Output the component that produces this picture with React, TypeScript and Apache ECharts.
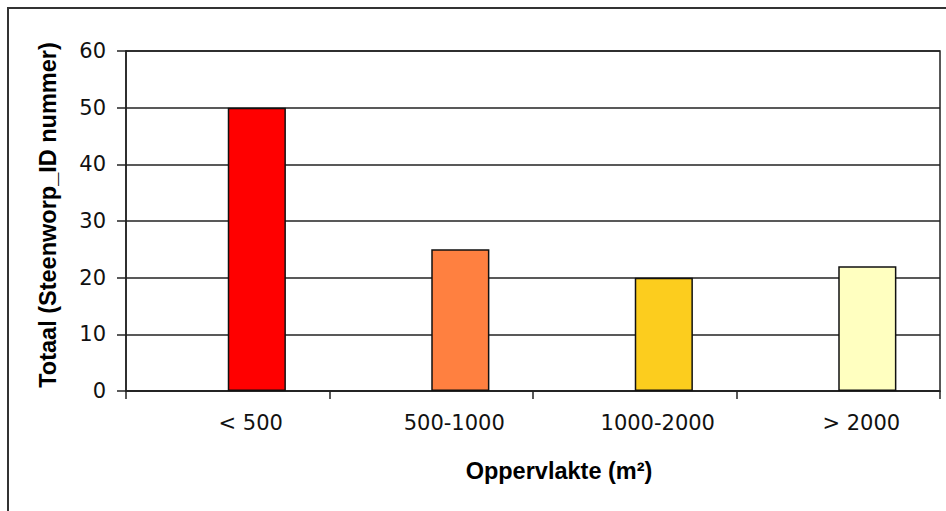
import React, { useEffect, useRef } from "react";
import * as echarts from "echarts";

const categories = ["< 500", "500-1000", "1000-2000", "> 2000"];
const totals = [50, 25, 20, 22];
const barColors = ["#FF0000", "#FF8040", "#FCCD1E", "#FFFFC0"];
const yTicks = { min: 0, max: 60, interval: 10 };

const FONT = '"Liberation Sans", Arial, sans-serif';
const TICK_FONT = '"DejaVu Sans", "Liberation Sans", sans-serif';

export default function App() {
  const ref = useRef<HTMLDivElement>(null);

  useEffect(() => {
    if (!ref.current) return;
    const chart = echarts.init(ref.current, undefined, { renderer: "svg" });
    chart.setOption({
      animation: false,
      backgroundColor: "#ffffff",
      graphic: [
        {
          type: "rect",
          shape: { x: 8, y: 8, width: 960, height: 540 },
          style: { fill: "none", stroke: "#333", lineWidth: 2 },
          silent: true,
        },
      ],
      grid: {
        left: 126,
        right: 6,
        top: 51,
        bottom: 120,
        show: true,
        borderColor: "#222",
        borderWidth: 1.5,
      },
      xAxis: {
        type: "category",
        data: categories,
        boundaryGap: true,
        axisLine: { show: true, lineStyle: { color: "#222", width: 1.5 } },
        axisTick: { show: true, interval: 0, length: 8, lineStyle: { color: "#222", width: 1.5 } },
        axisLabel: {
          interval: 0,
          margin: 21,
          color: "#111",
          fontFamily: TICK_FONT,
          fontSize: 21,
          padding: [0, 0, 0, 46],
        },
        name: "Oppervlakte (m²)",
        nameLocation: "middle",
        nameGap: 68,
        nameTextStyle: {
          fontFamily: FONT,
          fontWeight: "bold",
          fontSize: 23.5,
          color: "#000",
          padding: [0, 0, 0, 52],
        },
        splitLine: { show: false },
      },
      yAxis: {
        type: "value",
        min: yTicks.min,
        max: yTicks.max,
        interval: yTicks.interval,
        axisLine: { show: true, lineStyle: { color: "#222", width: 1.5 } },
        axisTick: { show: true, length: 9, lineStyle: { color: "#222", width: 1.5 } },
        axisLabel: {
          margin: 20,
          color: "#111",
          fontFamily: TICK_FONT,
          fontSize: 21,
        },
        splitLine: { show: true, lineStyle: { color: "#222", width: 1.5 } },
        name: "Totaal (Steenworp_ID nummer)",
        nameLocation: "middle",
        nameRotate: 90,
        nameGap: 66,
        nameTextStyle: {
          fontFamily: FONT,
          fontWeight: "bold",
          fontSize: 23.5,
          color: "#000",
          padding: [0, 0, 0, 12],
        },
      },
      series: [
        {
          name: "",
          type: "bar",
          data: categories.map(() => null),
          barGap: "0%",
          barCategoryGap: "42.857%",
        },
        {
          name: "Totaal",
          type: "bar",
          barGap: "0%",
          barCategoryGap: "42.857%",
          data: totals.map((v, i) => ({
            value: v,
            itemStyle: { color: barColors[i] },
          })),
          itemStyle: { borderColor: "#111", borderWidth: 1.5 },
        },
      ],
    });
    return () => chart.dispose();
  }, []);

  return (
    <div
      ref={ref}
      style={{ position: "absolute", left: 0, top: 0, width: 946, height: 511 }}
    />
  );
}
